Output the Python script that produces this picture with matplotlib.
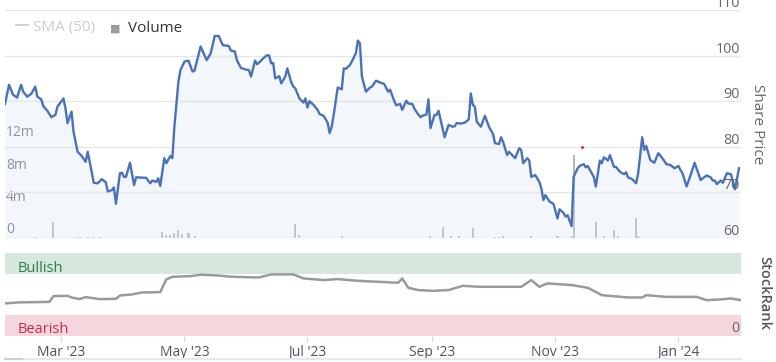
import matplotlib
matplotlib.use("Agg")
import matplotlib.pyplot as plt
import matplotlib.dates as mdates
from matplotlib.lines import Line2D
import pandas as pd

plt.rcParams['font.family'] = ['Open Sans', 'DejaVu Sans']

# share price
price_dates = [
    "2023-02-01", "2023-02-03", "2023-02-05", "2023-02-07", "2023-02-09", "2023-02-10", "2023-02-12",
    "2023-02-14", "2023-02-16", "2023-02-17", "2023-02-19", "2023-02-20", "2023-02-22", "2023-02-24",
    "2023-02-26", "2023-02-27", "2023-03-02", "2023-03-03", "2023-03-04", "2023-03-06", "2023-03-07",
    "2023-03-09", "2023-03-11", "2023-03-13", "2023-03-14", "2023-03-16", "2023-03-17", "2023-03-19",
    "2023-03-21", "2023-03-23", "2023-03-24", "2023-03-26", "2023-03-27", "2023-03-28", "2023-03-30",
    "2023-03-31", "2023-04-01", "2023-04-02", "2023-04-04", "2023-04-06", "2023-04-07", "2023-04-12",
    "2023-04-14", "2023-04-15", "2023-04-17", "2023-04-18", "2023-04-19", "2023-04-21", "2023-04-22",
    "2023-04-24", "2023-04-25", "2023-04-26", "2023-04-28", "2023-04-29", "2023-05-01", "2023-05-03",
    "2023-05-05", "2023-05-06", "2023-05-09", "2023-05-12", "2023-05-14", "2023-05-16", "2023-05-18",
    "2023-05-20", "2023-05-23", "2023-05-24", "2023-05-26", "2023-05-27", "2023-05-29", "2023-05-31",
    "2023-06-02", "2023-06-03", "2023-06-05", "2023-06-06", "2023-06-08", "2023-06-09", "2023-06-11",
    "2023-06-12", "2023-06-13", "2023-06-14", "2023-06-15", "2023-06-17", "2023-06-18", "2023-06-20",
    "2023-06-21", "2023-06-23", "2023-06-24", "2023-06-25", "2023-06-27", "2023-06-29", "2023-06-30",
    "2023-07-01", "2023-07-02", "2023-07-04", "2023-07-06", "2023-07-07", "2023-07-09", "2023-07-11",
    "2023-07-12", "2023-07-13", "2023-07-14", "2023-07-16", "2023-07-18", "2023-07-19", "2023-07-20",
    "2023-07-22", "2023-07-23", "2023-07-25", "2023-07-26", "2023-07-27", "2023-07-28", "2023-07-30",
    "2023-08-01", "2023-08-02", "2023-08-04", "2023-08-06", "2023-08-08", "2023-08-10", "2023-08-11",
    "2023-08-13", "2023-08-14", "2023-08-16", "2023-08-17", "2023-08-19", "2023-08-20", "2023-08-22",
    "2023-08-23", "2023-08-24", "2023-08-26", "2023-08-27", "2023-08-29", "2023-08-30", "2023-08-31",
    "2023-09-02", "2023-09-03", "2023-09-04", "2023-09-07", "2023-09-09", "2023-09-11", "2023-09-12",
    "2023-09-13", "2023-09-15", "2023-09-17", "2023-09-19", "2023-09-20", "2023-09-21", "2023-09-22",
    "2023-09-23", "2023-09-25", "2023-09-27", "2023-09-29", "2023-10-01", "2023-10-02", "2023-10-04",
    "2023-10-05", "2023-10-06", "2023-10-08", "2023-10-09", "2023-10-12", "2023-10-14", "2023-10-15",
    "2023-10-16", "2023-10-18", "2023-10-19", "2023-10-20", "2023-10-22", "2023-10-24", "2023-10-25",
    "2023-10-26", "2023-10-27", "2023-10-29", "2023-10-31", "2023-11-02", "2023-11-03", "2023-11-05",
    "2023-11-06", "2023-11-07", "2023-11-09", "2023-11-10", "2023-11-12", "2023-11-13", "2023-11-15",
    "2023-11-16", "2023-11-17", "2023-11-20", "2023-11-21", "2023-11-23", "2023-11-24", "2023-11-25",
    "2023-11-27", "2023-11-28", "2023-11-30", "2023-12-01", "2023-12-03", "2023-12-05", "2023-12-06",
    "2023-12-07", "2023-12-09", "2023-12-11", "2023-12-12", "2023-12-14", "2023-12-15", "2023-12-16",
    "2023-12-18", "2023-12-20", "2023-12-22", "2023-12-24", "2023-12-26", "2023-12-28", "2023-12-30",
    "2024-01-01", "2024-01-02", "2024-01-03", "2024-01-05", "2024-01-07", "2024-01-09", "2024-01-12",
    "2024-01-13", "2024-01-15", "2024-01-17", "2024-01-18", "2024-01-19", "2024-01-20", "2024-01-22",
    "2024-01-23", "2024-01-25", "2024-01-27", "2024-01-28", "2024-01-29", "2024-01-31",
]
price_values = [
    89.4, 93.6, 91.4, 90.8, 93.6, 92.1, 91.0,
    91.6, 93.2, 91.0, 90.4, 88.9, 87.9, 86.5,
    87.0, 88.8, 90.6, 88.4, 85.2, 87.7, 83.3,
    78.9, 78.0, 76.7, 78.9, 74.5, 72.1, 72.0,
    72.9, 72.2, 70.2, 70.5, 71.1, 67.5, 74.2,
    74.3, 73.4, 73.4, 76.5, 71.6, 73.3, 73.2,
    72.0, 72.6, 72.3, 73.1, 71.4, 77.5, 76.4,
    78.0, 77.5, 84.4, 94.3, 96.8, 98.7, 98.9,
    96.5, 96.7, 102.0, 99.0, 100.5, 104.3, 104.3,
    102.3, 102.1, 101.1, 100.9, 99.0, 97.3, 97.0,
    96.8, 95.4, 98.9, 98.1, 98.9, 99.4, 100.1,
    100.0, 98.3, 98.4, 95.0, 95.5, 93.9, 95.4,
    97.2, 94.1, 93.2, 92.8, 90.6, 89.7, 90.6,
    88.6, 90.0, 89.2, 88.1, 87.2, 86.8, 85.3,
    83.0, 84.4, 87.0, 93.0, 92.6, 97.2, 97.1,
    97.9, 98.7, 100.5, 103.3, 102.7, 95.4, 92.1,
    93.0, 93.2, 94.5, 94.1, 93.8, 92.1, 92.5,
    90.1, 89.1, 89.4, 88.1, 90.1, 89.5, 89.4,
    88.4, 87.7, 86.5, 86.8, 87.1, 90.4, 84.1,
    87.0, 87.0, 87.9, 82.1, 84.8, 84.4, 84.5,
    85.2, 85.1, 85.3, 86.0, 91.7, 89.2, 88.8,
    85.5, 84.4, 86.8, 84.4, 82.8, 80.8, 80.6,
    82.1, 81.1, 78.2, 78.9, 77.5, 79.7, 79.3,
    76.4, 77.5, 77.0, 73.4, 73.8, 72.3, 70.9,
    68.3, 69.4, 68.0, 67.5, 64.3, 66.3, 65.5,
    64.7, 65.0, 62.6, 73.4, 75.3, 75.8, 76.2,
    75.5, 75.8, 73.4, 71.3, 77.0, 76.4, 77.7,
    77.0, 78.2, 75.6, 75.6, 74.5, 74.0, 74.4,
    73.3, 72.9, 72.0, 74.2, 82.1, 79.3, 80.2,
    77.1, 76.5, 78.6, 77.5, 76.2, 76.0, 75.3,
    75.8, 74.9, 74.2, 71.3, 73.8, 76.5, 72.7,
    73.1, 73.7, 73.3, 72.6, 72.6, 71.8, 72.6,
    72.1, 74.2, 74.0, 72.3, 70.7, 75.3,
]

# volume in millions (only the visible bars)
volume_dates = [
    "2023-02-16", "2023-02-25", "2023-03-08", "2023-03-10", "2023-03-14", "2023-03-17", "2023-03-20",
    "2023-04-20", "2023-04-22", "2023-04-24", "2023-04-26", "2023-04-28", "2023-04-30", "2023-05-03",
    "2023-05-06", "2023-06-25", "2023-06-27", "2023-07-18", "2023-08-31", "2023-09-06", "2023-09-10",
    "2023-09-14", "2023-09-21", "2023-10-02", "2023-10-04", "2023-10-06", "2023-10-20", "2023-11-02",
    "2023-11-09", "2023-11-10", "2023-11-21", "2023-11-25", "2023-11-30", "2023-12-02", "2023-12-11",
    "2023-12-12",
]
volume_values = [
    0.15, 2.0, 0.15, 0.15, 0.1, 0.1, 0.1,
    0.75, 0.4, 0.4, 0.6, 1.0, 0.5, 0.6,
    0.25, 1.75, 0.35, 0.25, 0.25, 1.4, 0.25,
    0.3, 1.25, 0.15, 0.15, 0.2, 0.2, 0.2,
    0.2, 10.3, 2.0, 0.2, 1.0, 0.2, 2.5,
    0.3,
]

event_dates = ["2023-11-14"]
event_values = [80.0]

# StockRank
rank_dates = [
    "2023-02-01", "2023-02-08", "2023-02-23", "2023-02-25", "2023-03-04", "2023-03-06", "2023-03-10",
    "2023-03-13", "2023-03-20", "2023-03-28", "2023-03-30", "2023-04-05", "2023-04-10", "2023-04-19",
    "2023-04-22", "2023-04-25", "2023-05-04", "2023-05-09", "2023-05-17", "2023-05-25", "2023-06-03",
    "2023-06-07", "2023-06-13", "2023-06-24", "2023-06-29", "2023-07-09", "2023-07-16", "2023-07-26",
    "2023-08-15", "2023-08-17", "2023-08-20", "2023-08-25", "2023-09-01", "2023-09-09", "2023-09-16",
    "2023-09-24", "2023-10-15", "2023-10-20", "2023-10-24", "2023-10-28", "2023-11-09", "2023-11-17",
    "2023-11-24", "2023-12-07", "2023-12-14", "2023-12-16", "2023-12-26", "2024-01-10", "2024-01-15",
    "2024-01-22", "2024-01-27", "2024-02-01",
]
rank_values = [
    39.7, 41.0, 41.6, 48.6, 49.0, 47.0, 45.0,
    47.4, 45.0, 45.3, 49.4, 50.7, 53.1, 53.5,
    69.0, 72.2, 73.0, 74.7, 73.9, 72.2, 71.5,
    71.4, 75.1, 75.1, 70.2, 68.2, 69.4, 67.3,
    64.9, 70.2, 58.8, 56.0, 55.1, 56.0, 61.2,
    60.0, 60.0, 68.2, 60.0, 64.1, 62.1, 58.8,
    49.8, 47.0, 47.0, 49.8, 47.7, 47.7, 43.7,
    44.6, 45.8, 43.7,
]

price_ticks = [60, 70, 80, 90, 100, 110]
volume_ticks = [0, 4, 8, 12]
volume_labels = ["0", "4m", "8m", "12m"]

W, H = 776, 362
grey_text = "#666666"


def fx(px):
    return px / W


def fy(py):
    return 1 - py / H


pdates = pd.to_datetime(price_dates)
vdates = pd.to_datetime(volume_dates)
rdates = pd.to_datetime(rank_dates)
x_range = (pd.Timestamp("2023-02-01"), pd.Timestamp("2024-02-01"))

fig = plt.figure(figsize=(W / 100, H / 100), dpi=100)

# top panel: volume underneath, price on top
ax_vol = fig.add_axes([fx(5), fy(238), fx(736), 228 / H])
ax_p = ax_vol.twinx()
ax_p.set_zorder(ax_vol.get_zorder() + 1)
ax_p.patch.set_visible(False)

ax_vol.bar(vdates, volume_values, width=1.0, color="#b4b4bc", linewidth=0)
ax_vol.set_ylim(0, 28.3)

ax_p.fill_between(pdates, price_values, 60, color="#dfe6f4", alpha=0.35, lw=0, zorder=1)
for v in price_ticks:
    ax_p.axhline(v, color="#e6e6e6", lw=1, zorder=1.5)
ax_p.plot(pdates, price_values, color="#4a72b8", lw=1.7, zorder=3)
ax_p.scatter(pd.to_datetime(event_dates), event_values, s=1, color="red", zorder=4)
ax_p.set_ylim(60, 110)

for a in (ax_vol, ax_p):
    a.set_xlim(*x_range)
    for s in a.spines.values():
        s.set_visible(False)
    a.set_xticks([])
    a.set_yticks([])

for v in price_ticks:
    ax_p.annotate(str(v), xy=(1, v), xycoords=("axes fraction", "data"),
                  xytext=(-1, 3), textcoords="offset pixels", ha="right",
                  va="baseline", fontsize=10.3, color=grey_text,
                  annotation_clip=False)
for v, lab in zip(volume_ticks, volume_labels):
    ax_vol.annotate(lab, xy=(0, v), xycoords=("axes fraction", "data"),
                    xytext=(1, 5), textcoords="offset pixels", ha="left",
                    va="baseline", fontsize=10, color=grey_text)

fig.text(fx(758), fy(124), "Share Price", rotation=270, ha="center", va="center",
         fontsize=11, color=grey_text)

# legend
fig.add_artist(Line2D([fx(16), fx(28)], [fy(25), fy(25)], color="#cccccc", lw=1.3))
fig.text(fx(33), fy(31.5), "SMA (50)", fontsize=11, color="#cccccc", va="baseline")
fig.text(fx(110), fy(32), "\u25a0", fontsize=8, color="#9a9aa0", va="baseline")
fig.text(fx(128), fy(31.5), "Volume", fontsize=11, color="#333333", va="baseline")

# bottom panel: StockRank
ax_r = fig.add_axes([fx(5), fy(336), fx(736), 83 / H])
ax_r.axhspan(75, 100, color="#d5e8db", lw=0)
ax_r.axhspan(0, 25, color="#f5d6dc", lw=0)
ax_r.plot(rdates, rank_values, color="#9a9a9a", lw=1.8)
ax_r.set_ylim(0, 101.2)
ax_r.set_xlim(*x_range)
for name, s in ax_r.spines.items():
    s.set_visible(name == "top")
ax_r.spines["top"].set_color("#e6e6e6")
ax_r.set_yticks([])
ax_r.xaxis.set_major_locator(mdates.MonthLocator(bymonth=[1, 3, 5, 7, 9, 11]))
ax_r.xaxis.set_major_formatter(mdates.DateFormatter("%b '%y"))
ax_r.tick_params(axis="x", length=4.5, width=1, color="#d8dde6", labelsize=10,
                 labelcolor="#4d5360", pad=2)

fig.text(fx(18), fy(271.5), "Bullish", fontsize=10.5, color="#2f7d4f", va="baseline")
fig.text(fx(18), fy(333), "Bearish", fontsize=10.5, color="#cc2b4e", va="baseline")
fig.text(fx(739), fy(332), "0", fontsize=10.3, color=grey_text, ha="right", va="baseline")
fig.text(fx(764), fy(293), "StockRank", rotation=270, ha="center", va="center",
         fontsize=10.5, color="#555555", fontweight="semibold")

# scrollbar track at the very bottom
fig.add_artist(Line2D([fx(5), fx(741)], [fy(358.5), fy(358.5)], color="#e8e8e8", lw=1.5))
fig.add_artist(Line2D([fx(5), fx(22)], [fy(358.5), fy(358.5)], color="#cfcfcf", lw=1.5))

fig.savefig("out.png", dpi=100)
